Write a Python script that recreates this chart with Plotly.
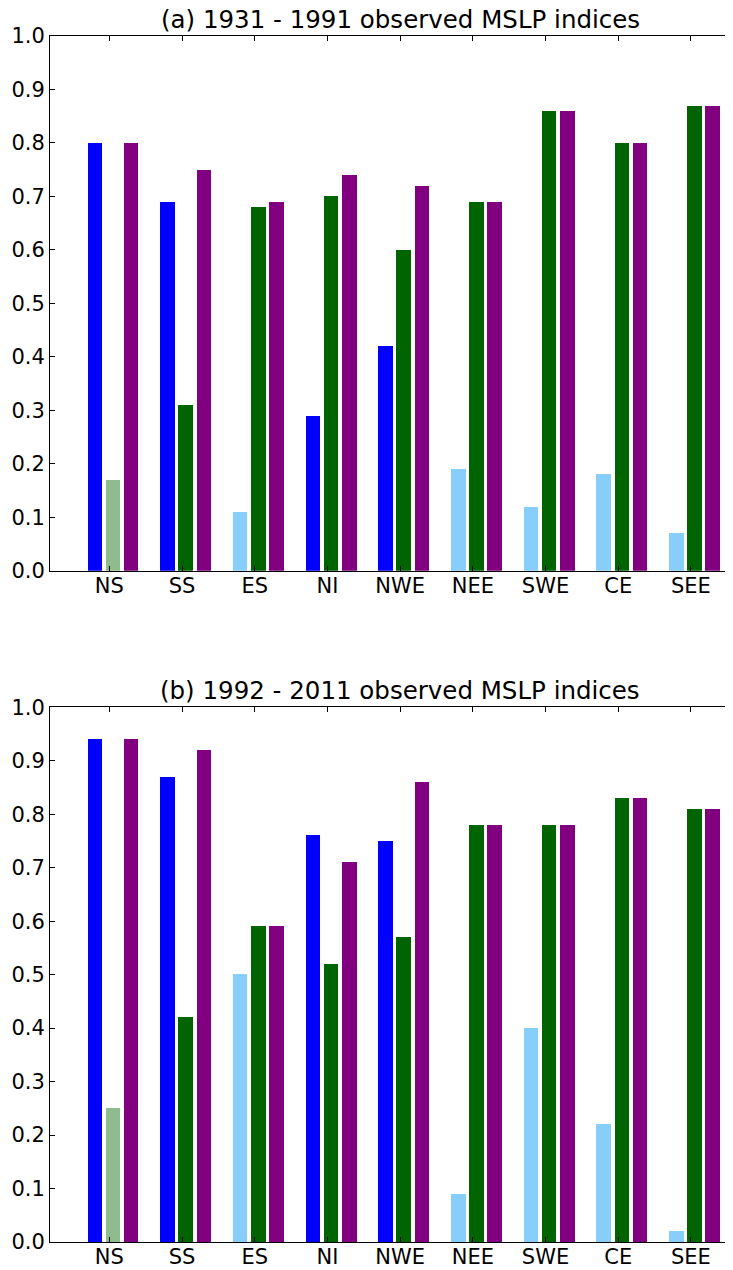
import plotly.graph_objects as go
from plotly.subplots import make_subplots

categories = ["NS", "SS", "ES", "NI", "NWE", "NEE", "SWE", "CE", "SEE"]

# Panel (a) 1931-1991
a_first = [0.80, 0.69, 0.11, 0.29, 0.42, 0.19, 0.12, 0.18, 0.07]
a_second = [0.17, 0.31, 0.68, 0.70, 0.60, 0.69, 0.86, 0.80, 0.87]
a_third = [0.80, 0.75, 0.69, 0.74, 0.72, 0.69, 0.86, 0.80, 0.87]
a_first_colors = ["blue", "blue", "lightskyblue", "blue", "blue",
                  "lightskyblue", "lightskyblue", "lightskyblue", "lightskyblue"]
a_second_colors = ["darkseagreen"] + ["darkgreen"] * 8

# Panel (b) 1992-2011
b_first = [0.94, 0.87, 0.50, 0.76, 0.75, 0.09, 0.40, 0.22, 0.02]
b_second = [0.25, 0.42, 0.59, 0.52, 0.57, 0.78, 0.78, 0.83, 0.81]
b_third = [0.94, 0.92, 0.59, 0.71, 0.86, 0.78, 0.78, 0.83, 0.81]
b_first_colors = ["blue", "blue", "lightskyblue", "blue", "blue",
                  "lightskyblue", "lightskyblue", "lightskyblue", "lightskyblue"]
b_second_colors = ["darkseagreen"] + ["darkgreen"] * 8

third_color = "purple"
titles = ["(a) 1931 - 1991 observed MSLP indices", "(b) 1992 - 2011 observed MSLP indices"]
yticks = [0.0, 0.1, 0.2, 0.3, 0.4, 0.5, 0.6, 0.7, 0.8, 0.9, 1.0]

idx = list(range(len(categories)))
bar_w = 0.2
step = 0.25

fig = make_subplots(rows=2, cols=1)

panels = [
    (a_first, a_first_colors, a_second, a_second_colors, a_third),
    (b_first, b_first_colors, b_second, b_second_colors, b_third),
]
for r, (f, fc, s, sc, t) in enumerate(panels, start=1):
    for k, (vals, cols) in enumerate([(f, fc), (s, sc), (t, [third_color] * len(t))]):
        fig.add_trace(go.Bar(
            x=[i + k * step + bar_w / 2 for i in idx], y=vals, width=bar_w,
            marker=dict(color=cols, line=dict(width=0)), showlegend=False,
        ), row=r, col=1)

tick_font = dict(family="DejaVu Sans", size=21, color="black")
title_font = dict(family="DejaVu Sans", size=24.5, color="black")

# page body has an 8px margin; the figure starts at (8, 8) in the window
W, H = 725, 1262
ml, mr, mt, mb = 42, 0, 28, 28
pw = W - ml - mr
ph = H - mt - mb
px_per_unit = 72.7
xr = [-0.516, -0.516 + pw / px_per_unit]
for r in (1, 2):
    fig.update_xaxes(range=xr, tickvals=[i + 0.3 for i in idx], ticktext=categories,
                     ticks="inside", ticklen=5, tickcolor="black", showline=True,
                     linecolor="black", linewidth=1, mirror="ticks", showgrid=False,
                     zeroline=False, tickfont=tick_font, automargin=False,
                     ticklabelstandoff=-4, row=r, col=1)
    fig.update_yaxes(range=[0, 1], tickvals=yticks, ticktext=[f"{v:.1f}" for v in yticks],
                     ticks="inside", ticklen=5, tickcolor="black", showline=True,
                     linecolor="black", linewidth=1, mirror=False, showgrid=False,
                     zeroline=False, tickfont=tick_font, automargin=False, row=r, col=1)

panel_h = 534.7
top_lo = (ph - panel_h) / ph
bot_hi = panel_h / ph
fig.update_layout(
    width=W, height=H, plot_bgcolor="white", paper_bgcolor="white",
    margin=dict(l=ml, r=mr, t=mt, b=mb, autoexpand=False), bargap=0,
    yaxis=dict(domain=[top_lo, 1.0]), yaxis2=dict(domain=[0.0, bot_hi]),
    xaxis=dict(domain=[0, 1]), xaxis2=dict(domain=[0, 1]),
)

title_x = (392 - ml) / pw
fig.add_annotation(text=titles[0], xref="paper", yref="paper", x=title_x, y=1.0,
                   yanchor="bottom", yshift=0, showarrow=False, font=title_font)
fig.add_annotation(text=titles[1], xref="paper", yref="paper", x=title_x, y=bot_hi,
                   yanchor="bottom", yshift=0, showarrow=False, font=title_font)

fig.write_html("out.html")
